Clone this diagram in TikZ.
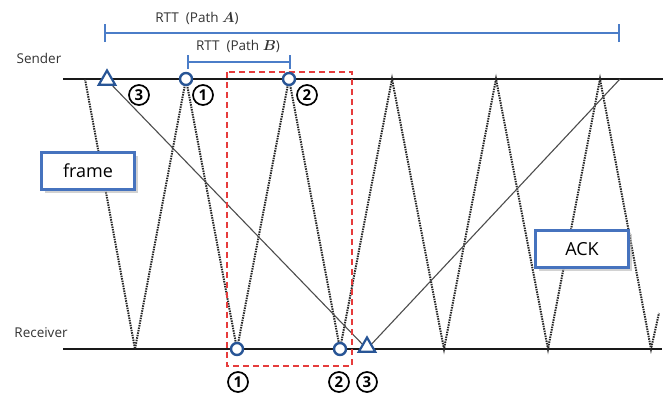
\documentclass[tikz,border=0pt]{standalone}
\usepackage{amsmath}
\usepackage{fontspec}
\setmainfont{Open Sans}
\usetikzlibrary{shapes.geometric, positioning, shadows}
\definecolor{RTTblue}{RGB}{75,125,200}
\definecolor{MarkBlue}{RGB}{40,85,150}
\definecolor{BoxBlue}{RGB}{70,115,190}
\definecolor{WinRed}{RGB}{230,60,60}

\begin{document}
\begin{tikzpicture}[x=1pt, y=-1pt,
    timeline/.style={line width=2.2pt, black!90},
    zigzag/.style={dash pattern=on 1.5pt off 1pt, line width=2pt, black!85},
    pathline/.style={line width=1.1pt, black!70},
    rtt/.style={line width=1.3pt, RTTblue},
    dot/.style={circle, draw=MarkBlue, line width=2.4pt, fill=white, minimum size=12pt, inner sep=0pt},
    tri/.style={regular polygon, regular polygon sides=3, draw=MarkBlue, line width=2.2pt, fill=white, minimum size=19pt, inner sep=0pt},
    numc/.style={circle, draw, line width=1.7pt, minimum size=20pt, inner sep=0pt, font=\fontsize{15}{15}\selectfont\bfseries},
    msgbox/.style={rectangle, draw=BoxBlue, line width=2.6pt, fill=white, minimum width=93pt, minimum height=37pt,
      font=\fontsize{18}{18}\selectfont, drop shadow={shadow xshift=3pt, shadow yshift=-3pt, fill=black!35}},
    lbl/.style={font=\fontsize{13.5}{13.5}\selectfont, text=black!80}]
  \useasboundingbox (0,0) rectangle (669,397);

  % time lines
  \coordinate (sl) at (63,79);
  \coordinate (sr) at (663,79);
  \coordinate (rl) at (63,349);
  \coordinate (rr) at (662,349);
  \draw[timeline] (sl) -- (sr);
  \draw[timeline] (rl) -- (rr);
  \node[lbl] (sender) at (39,58) {Sender};
  \node[lbl] (receiver) at (41,333) {Receiver};

  % frames going back and forth
  \foreach \i/\sx/\rx in {0/85/135, 1/186/237, 2/289/340, 3/392/444, 4/496/548, 5/600/651} {
    \coordinate (s\i) at (\sx,79);
    \coordinate (r\i) at (\rx,349);
  }
  \coordinate (rend) at (659,313);
  \draw[zigzag] (s0) -- (r0) -- (s1) -- (r1) -- (s2) -- (r2) -- (s3) -- (r3)
    -- (s4) -- (r4) -- (s5) -- (r5) -- (rend);

  % path A frame and its ACK
  \coordinate (sa) at (107,80);
  \coordinate (ra) at (367,349);
  \coordinate (sack) at (620,79);
  \draw[pathline] (sa) -- (ra) -- (sack);

  % window
  \draw[WinRed, dash pattern=on 6pt off 4pt, line width=1.4pt] (227,72) rectangle (352,366);

  % markers
  \node[tri] (ta) at (107,80) {};
  \node[tri] (tb) at (367,347) {};
  \node[dot] (d1) at (s1) {};
  \node[dot] (d2) at (s2) {};
  \node[dot] (e1) at (r1) {};
  \node[dot] (e2) at (r2) {};

  \node[numc] (n3) at (139,95) {3};
  \node[numc] (n1) at (203,95) {1};
  \node[numc] (n2) at (307,95) {2};
  \node[numc] (m1) at (238,382) {1};
  \node[numc] (m2) at (339,382) {2};
  \node[numc] (m3) at (367,382) {3};

  % RTT brackets
  \coordinate (a1) at (105,33);
  \coordinate (a2) at (619,33);
  \draw[rtt] (a1) -- (a2);
  \draw[rtt] ([yshift=-9pt]a1) -- ([yshift=9pt]a1);
  \draw[rtt] ([yshift=-9pt]a2) -- ([yshift=9pt]a2);
  \node[lbl] (rtta) at (197,18) {RTT\ \ (Path $\boldsymbol{A}$)};

  \coordinate (b1) at (188,62);
  \coordinate (b2) at (290,62);
  \draw[rtt] (b1) -- (b2);
  \draw[rtt] ([yshift=-7pt]b1) -- ([yshift=7pt]b1);
  \draw[rtt] ([yshift=-7pt]b2) -- ([yshift=7pt]b2);
  \node[lbl] (rttb) at (238,46) {RTT\ \ (Path $\boldsymbol{B}$)};

  % boxes
  \node[msgbox] (frame) at (88,171) {frame};
  \node[msgbox] (ack) at (582,249) {ACK};
\end{tikzpicture}
\end{document}
